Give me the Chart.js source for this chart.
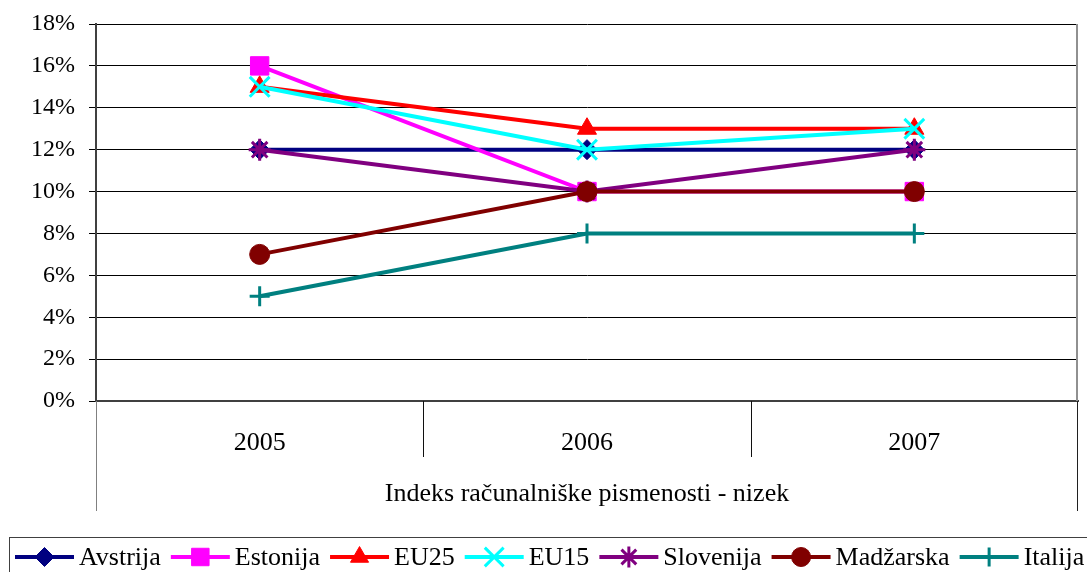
<!DOCTYPE html>
<html>
<head>
<meta charset="utf-8">
<script src="https://cdn.jsdelivr.net/npm/chart.js@4.4.1/dist/chart.umd.min.js"></script>
<style>
html, body { margin: 0; padding: 0; background: #fff; }
#wrap { width: 1087px; height: 572px; }
</style>
</head>
<body>
<div id="wrap"><canvas id="chart" width="1087" height="572"></canvas></div>
<script>
const years = ['2005', '2006', '2007'];
const avstrija = [12, 12, 12];
const estonija = [16, 10, 10];
const eu25 = [15, 13, 13];
const eu15 = [15, 12, 13];
const slovenija = [12, 10, 12];
const madzarska = [7, 10, 10];
const italija = [5, 8, 8];
const axisTitle = 'Indeks računalniške pismenosti - nizek';

const SERIF = '"Liberation Serif", "Times New Roman", serif';
Chart.defaults.font.family = SERIF;
Chart.defaults.color = '#000';

function series(label, data, color, style, radius, bw, idx) {
    return {
        label: label,
        data: data,
        borderColor: color,
        backgroundColor: color,
        borderWidth: 4,
        pointStyle: style,
        pointRadius: radius,
        pointHoverRadius: radius,
        pointBorderWidth: bw,
        pointBackgroundColor: color,
        pointBorderColor: color,
        tension: 0,
        order: 6 - idx, // later series on top, like the original
    };
}

// frame lines of the category box under the plot
const frame = {
    id: 'frame',
    beforeDatasetsDraw(chart) {
        const { ctx, chartArea: a, scales: { x } } = chart;
        ctx.save();
        ctx.lineWidth = 2;
        ctx.strokeStyle = '#909090';
        ctx.beginPath();
        ctx.moveTo(Math.round(a.right) - 1, a.top);
        ctx.lineTo(Math.round(a.right) - 1, a.bottom);
        ctx.stroke();
        ctx.lineWidth = 1;
        ctx.strokeStyle = '#202020';
        ctx.beginPath();
        ctx.moveTo(Math.round(a.right) - 0.5, a.bottom);
        ctx.lineTo(Math.round(a.right) - 0.5, x.bottom);
        ctx.stroke();
        ctx.strokeStyle = '#808080';
        ctx.beginPath();
        ctx.moveTo(Math.round(a.left) + 0.5, a.bottom);
        ctx.lineTo(Math.round(a.left) + 0.5, x.bottom);
        ctx.stroke();
        ctx.strokeStyle = '#101010';
        ctx.beginPath();
        for (let i = 1; i < years.length; i++) {
            const px = Math.round((x.getPixelForValue(i - 1) + x.getPixelForValue(i)) / 2) + 0.5;
            ctx.moveTo(px, a.bottom);
            ctx.lineTo(px, a.bottom + 56);
        }
        ctx.stroke();
        ctx.restore();
    }
};

// legend drawn with line + marker like the original
const legendBox = {
    id: 'legendBox',
    afterDraw(chart) {
        const ctx = chart.ctx;
        ctx.save();
        ctx.strokeStyle = '#404040';
        ctx.lineWidth = 1;
        ctx.strokeRect(9.5, 537.5, 1100, 60);
        ctx.font = '26px ' + SERIF;
        ctx.textBaseline = 'middle';
        let x = 15;
        const y = 557;
        chart.data.datasets.forEach(ds => {
            ctx.strokeStyle = ds.borderColor;
            ctx.lineWidth = 4;
            ctx.beginPath();
            ctx.moveTo(x, y);
            ctx.lineTo(x + 59, y);
            ctx.stroke();
            ctx.fillStyle = ds.borderColor;
            ctx.lineWidth = ds.pointBorderWidth;
            Chart.helpers.drawPoint(ctx, {
                pointStyle: ds.pointStyle,
                radius: ds.pointRadius * 0.95,
                borderWidth: ds.pointBorderWidth,
                rotation: 0,
            }, x + 29.5, y);
            ctx.fillStyle = '#000';
            ctx.fillText(ds.label, x + 64, y + 1);
            x += 64 + ctx.measureText(ds.label).width + 10;
        });
        ctx.restore();
    }
};

const ctx = document.getElementById('chart').getContext('2d');
new Chart(ctx, {
    type: 'line',
    data: {
        labels: years,
        datasets: [
            series('Avstrija', avstrija, '#000080', 'rectRot', 10, 1, 0),
            series('Estonija', estonija, '#FF00FF', 'rect', 13, 1, 1),
            series('EU25', eu25, '#FF0000', 'triangle', 11, 1, 2),
            series('EU15', eu15, '#00FFFF', 'crossRot', 14, 3, 3),
            series('Slovenija', slovenija, '#800080', 'star', 11, 3, 4),
            series('Madžarska', madzarska, '#800000', 'circle', 10, 1, 5),
            series('Italija', italija, '#008080', 'cross', 10, 3, 6),
        ],
    },
    options: {
        responsive: false,
        animation: false,
        devicePixelRatio: 1,
        layout: {
            autoPadding: false,
            padding: { top: 24, right: 9, bottom: 61, left: 0 },
        },
        plugins: {
            legend: { display: false },
            tooltip: { enabled: false },
        },
        scales: {
            x: {
                offset: true,
                grid: { display: false, drawTicks: true, tickLength: 27 },
                border: { display: true, color: '#404040', width: 2 },
                ticks: {
                    padding: 0,
                    font: { size: 26 },
                    maxRotation: 0,
                },
                title: {
                    display: true,
                    text: axisTitle,
                    font: { size: 26 },
                    padding: { top: 0, bottom: 1 },
                },
                afterFit(scale) { scale.height = 110; },
            },
            y: {
                min: 0,
                max: 18,
                ticks: {
                    stepSize: 2,
                    padding: 14,
                    font: { size: 24, lineHeight: 0.7 },
                    callback: v => v + '%',
                },
                grid: { color: '#000', lineWidth: 1, tickLength: 7 },
                border: { display: true, color: '#404040', width: 2 },
                afterFit(scale) { scale.width = 96; },
            },
        },
    },
    plugins: [frame, legendBox],
});
</script>
</body>
</html>
